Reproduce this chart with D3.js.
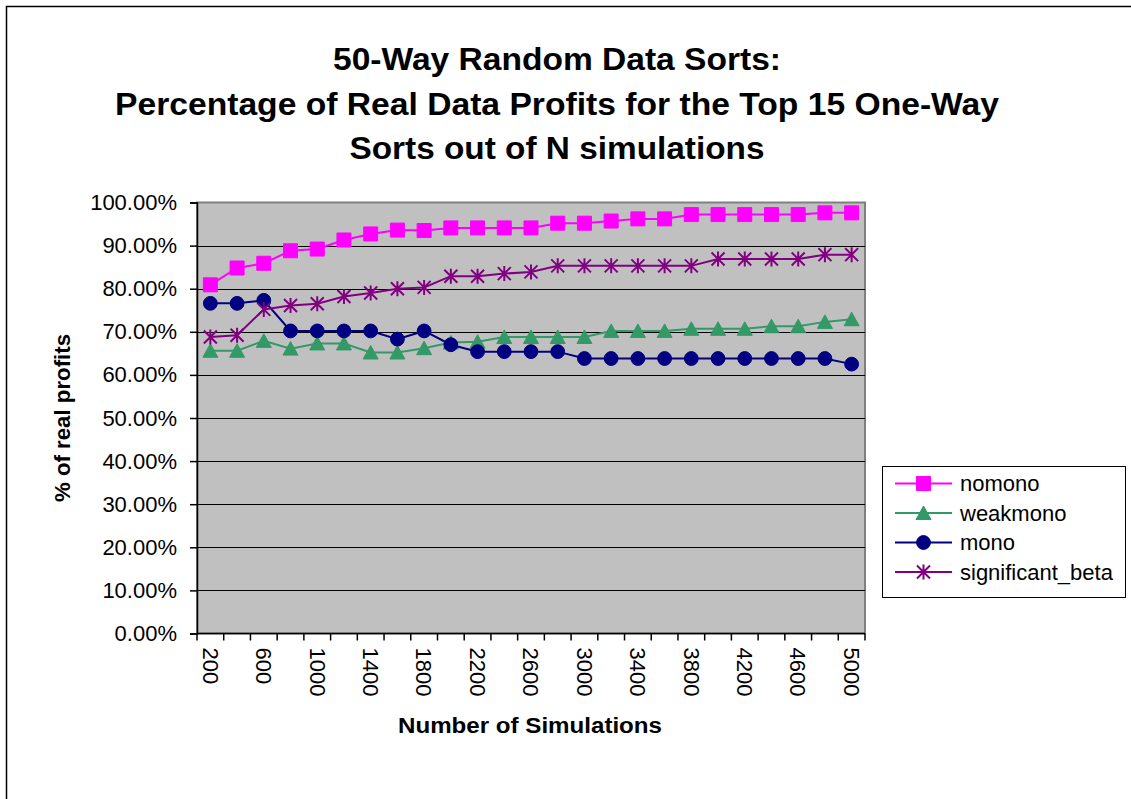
<!DOCTYPE html>
<html>
<head>
<meta charset="utf-8">
<script src="https://cdn.jsdelivr.net/npm/d3@7"></script>
<style>
  body { margin: 0; background: #fff; }
  svg { display: block; font-family: Arial, "Liberation Sans", sans-serif; }
</style>
</head>
<body>
<svg id="chart"></svg>
<script>
// number of simulations (x categories)
const simulations = [200, 400, 600, 800, 1000, 1200, 1400, 1600, 1800, 2000, 2200, 2400, 2600,
    2800, 3000, 3200, 3400, 3600, 3800, 4000, 4200, 4400, 4600, 4800, 5000];
// only every other category gets a label
const xTickLabels = [200, 600, 1000, 1400, 1800, 2200, 2600, 3000, 3400, 3800, 4200, 4600, 5000];
const yTicks = [0, 10, 20, 30, 40, 50, 60, 70, 80, 90, 100];

// % of real profits
const nomono = [80.9, 84.8, 85.9, 88.8, 89.2, 91.3, 92.7, 93.6, 93.5, 94.1, 94.1, 94.1, 94.1,
    95.2, 95.2, 95.7, 96.2, 96.2, 97.2, 97.2, 97.2, 97.2, 97.2, 97.6, 97.6];
const weakmono = [65.6, 65.6, 67.9, 66.1, 67.3, 67.3, 65.2, 65.2, 66.2, 67.5, 67.7, 68.8, 68.8,
    68.8, 68.8, 70.2, 70.2, 70.2, 70.7, 70.7, 70.7, 71.3, 71.3, 72.3, 72.9];
const mono = [76.6, 76.6, 77.3, 70.2, 70.2, 70.2, 70.2, 68.3, 70.2, 67.0, 65.4, 65.4, 65.4,
    65.4, 63.8, 63.8, 63.8, 63.8, 63.8, 63.8, 63.8, 63.8, 63.8, 63.8, 62.5];
const significantBeta = [68.8, 69.2, 75.2, 76.1, 76.5, 78.2, 79.0, 80.0, 80.3, 82.9, 82.9, 83.5, 83.9,
    85.3, 85.3, 85.3, 85.3, 85.3, 85.3, 86.9, 86.9, 86.9, 86.9, 87.9, 87.9];

const seriesNames = ["nomono", "weakmono", "mono", "significant_beta"];
const seriesColors = ["#ff00ff", "#339966", "#000080", "#800080"];
const seriesMarkers = ["square", "triangle", "circle", "asterisk"];
const seriesValues = [nomono, weakmono, mono, significantBeta];

const titleLines = ["50-Way Random Data Sorts:",
    "Percentage of Real Data Profits for the Top 15 One-Way",
    "Sorts out of N simulations"];

let width = 1131, height = 799;
let plot = { left: 197, right: 865, top: 202.5, bottom: 633.5 };

let svg = d3.select("#chart")
    .attr("width", width)
    .attr("height", height);

// outer chart border (runs off the right and bottom of the picture)
svg.append("rect")
    .attr("x", 6.5).attr("y", 6.5)
    .attr("width", 1400).attr("height", 1000)
    .attr("fill", "#fff")
    .attr("stroke", "#000")
    .attr("stroke-width", 1.5);

// title
let titleLengths = [448, 884, 415];
svg.append("g").selectAll("text")
    .data(titleLines)
    .enter().append("text")
    .attr("x", 557)
    .attr("y", (d, i) => 70 + i * 44.5)
    .attr("text-anchor", "middle")
    .attr("font-size", 31)
    .attr("font-weight", "bold")
    .attr("textLength", (d, i) => titleLengths[i])
    .attr("lengthAdjust", "spacingAndGlyphs")
    .text(d => d);

let xScale = d3.scaleBand()
    .domain(simulations)
    .range([plot.left, plot.right])
    .padding(0);

let yScale = d3.scaleLinear()
    .domain([0, 100])
    .range([plot.bottom, plot.top]);

// plot area
svg.append("rect")
    .attr("x", plot.left).attr("y", plot.top)
    .attr("width", plot.right - plot.left)
    .attr("height", plot.bottom - plot.top)
    .attr("fill", "#c0c0c0")
    .attr("stroke", "#808080")
    .attr("stroke-width", 2);

// gridlines
svg.append("g").selectAll("line")
    .data(yTicks.filter(d => d > 0 && d < 100))
    .enter().append("line")
    .attr("x1", plot.left).attr("x2", plot.right)
    .attr("y1", d => Math.round(yScale(d)) + 0.5)
    .attr("y2", d => Math.round(yScale(d)) + 0.5)
    .attr("stroke", "#000")
    .attr("stroke-width", 1);

// Y axis
let yAxis = svg.append("g")
    .attr("transform", "translate(" + plot.left + ",0)")
    .call(d3.axisLeft(yScale)
        .tickValues(yTicks)
        .tickSize(7)
        .tickPadding(13)
        .tickFormat(d => d.toFixed(2) + "%"));
yAxis.select(".domain").attr("stroke", "#000").attr("stroke-width", 1.5);
yAxis.selectAll(".tick line").attr("stroke", "#000").attr("stroke-width", 1.5);
yAxis.selectAll(".tick text")
    .attr("font-size", 22)
    .attr("font-family", "Arial, 'Liberation Sans', sans-serif")
    .attr("fill", "#000");

// X axis: ticks on category boundaries, labels on every other category
let xAxisG = svg.append("g")
    .attr("transform", "translate(0," + plot.bottom + ")");
xAxisG.append("line")
    .attr("x1", plot.left).attr("x2", plot.right)
    .attr("y1", 0).attr("y2", 0)
    .attr("stroke", "#000").attr("stroke-width", 1.5);
xAxisG.selectAll("line.tk")
    .data(simulations.concat(["end"]))
    .enter().append("line")
    .attr("class", "tk")
    .attr("x1", (d, i) => i < simulations.length ? xScale(d) : plot.right)
    .attr("x2", (d, i) => i < simulations.length ? xScale(d) : plot.right)
    .attr("y1", 0).attr("y2", 7)
    .attr("stroke", "#000").attr("stroke-width", 1.5);
xAxisG.selectAll("text")
    .data(xTickLabels)
    .enter().append("text")
    .attr("transform", d => "translate(" + (xScale(d) + xScale.bandwidth() / 2) + ",14) rotate(90)")
    .attr("dy", "0.35em")
    .attr("font-size", 22)
    .attr("text-anchor", "start")
    .text(d => d);

// axis titles
svg.append("text")
    .attr("x", 530).attr("y", 733)
    .attr("text-anchor", "middle")
    .attr("font-size", 22)
    .attr("font-weight", "bold")
    .attr("textLength", 264)
    .attr("lengthAdjust", "spacingAndGlyphs")
    .text("Number of Simulations");

svg.append("text")
    .attr("transform", "translate(70,418) rotate(-90)")
    .attr("text-anchor", "middle")
    .attr("font-size", 22)
    .attr("font-weight", "bold")
    .attr("textLength", 168)
    .attr("lengthAdjust", "spacingAndGlyphs")
    .text("% of real profits");

// marker shapes
function markerPath(type) {
    if (type === "square") return "M-7,-7h14v14h-14Z";
    if (type === "triangle") return "M0,-7L7.5,6.5L-7.5,6.5Z";
    if (type === "circle") return d3.symbol(d3.symbolCircle, 150)();
    return "M0,-7.5V7.5M-6.5,-6.5L6.5,6.5M-6.5,6.5L6.5,-6.5";
}

function drawMarker(sel, type, color) {
    if (type === "asterisk") {
        sel.attr("d", markerPath(type))
            .attr("fill", "none")
            .attr("stroke", color)
            .attr("stroke-width", 2);
    } else {
        sel.attr("d", markerPath(type))
            .attr("fill", color)
            .attr("stroke", color)
            .attr("stroke-width", 1);
    }
}

let line = d3.line()
    .x((d, i) => xScale(simulations[i]) + xScale.bandwidth() / 2)
    .y(d => yScale(d));

seriesValues.forEach((values, s) => {
    let g = svg.append("g");
    g.append("path")
        .datum(values)
        .attr("fill", "none")
        .attr("stroke", seriesColors[s])
        .attr("stroke-width", 2)
        .attr("d", line);
    g.selectAll("path.mk")
        .data(values)
        .enter().append("path")
        .attr("class", "mk")
        .attr("transform", (d, i) => "translate(" + (xScale(simulations[i]) + xScale.bandwidth() / 2) + "," + yScale(d) + ")")
        .call(drawMarker, seriesMarkers[s], seriesColors[s]);
});

// legend
let legend = svg.append("g");
legend.append("rect")
    .attr("x", 882.5).attr("y", 466.5)
    .attr("width", 243).attr("height", 131)
    .attr("fill", "#fff")
    .attr("stroke", "#000")
    .attr("stroke-width", 1);

let items = legend.selectAll("g.item")
    .data(seriesNames)
    .enter().append("g")
    .attr("class", "item")
    .attr("transform", (d, i) => "translate(0," + (483.5 + i * 29.5) + ")");
items.append("line")
    .attr("x1", 895).attr("x2", 952)
    .attr("stroke", (d, i) => seriesColors[i])
    .attr("stroke-width", 2);
items.append("path")
    .attr("transform", "translate(923.5,0)")
    .each(function (d, i) { d3.select(this).call(drawMarker, seriesMarkers[i], seriesColors[i]); });
items.append("text")
    .attr("x", 960)
    .attr("dy", "0.35em")
    .attr("font-size", 22)
    .text(d => d);
</script>
</body>
</html>
